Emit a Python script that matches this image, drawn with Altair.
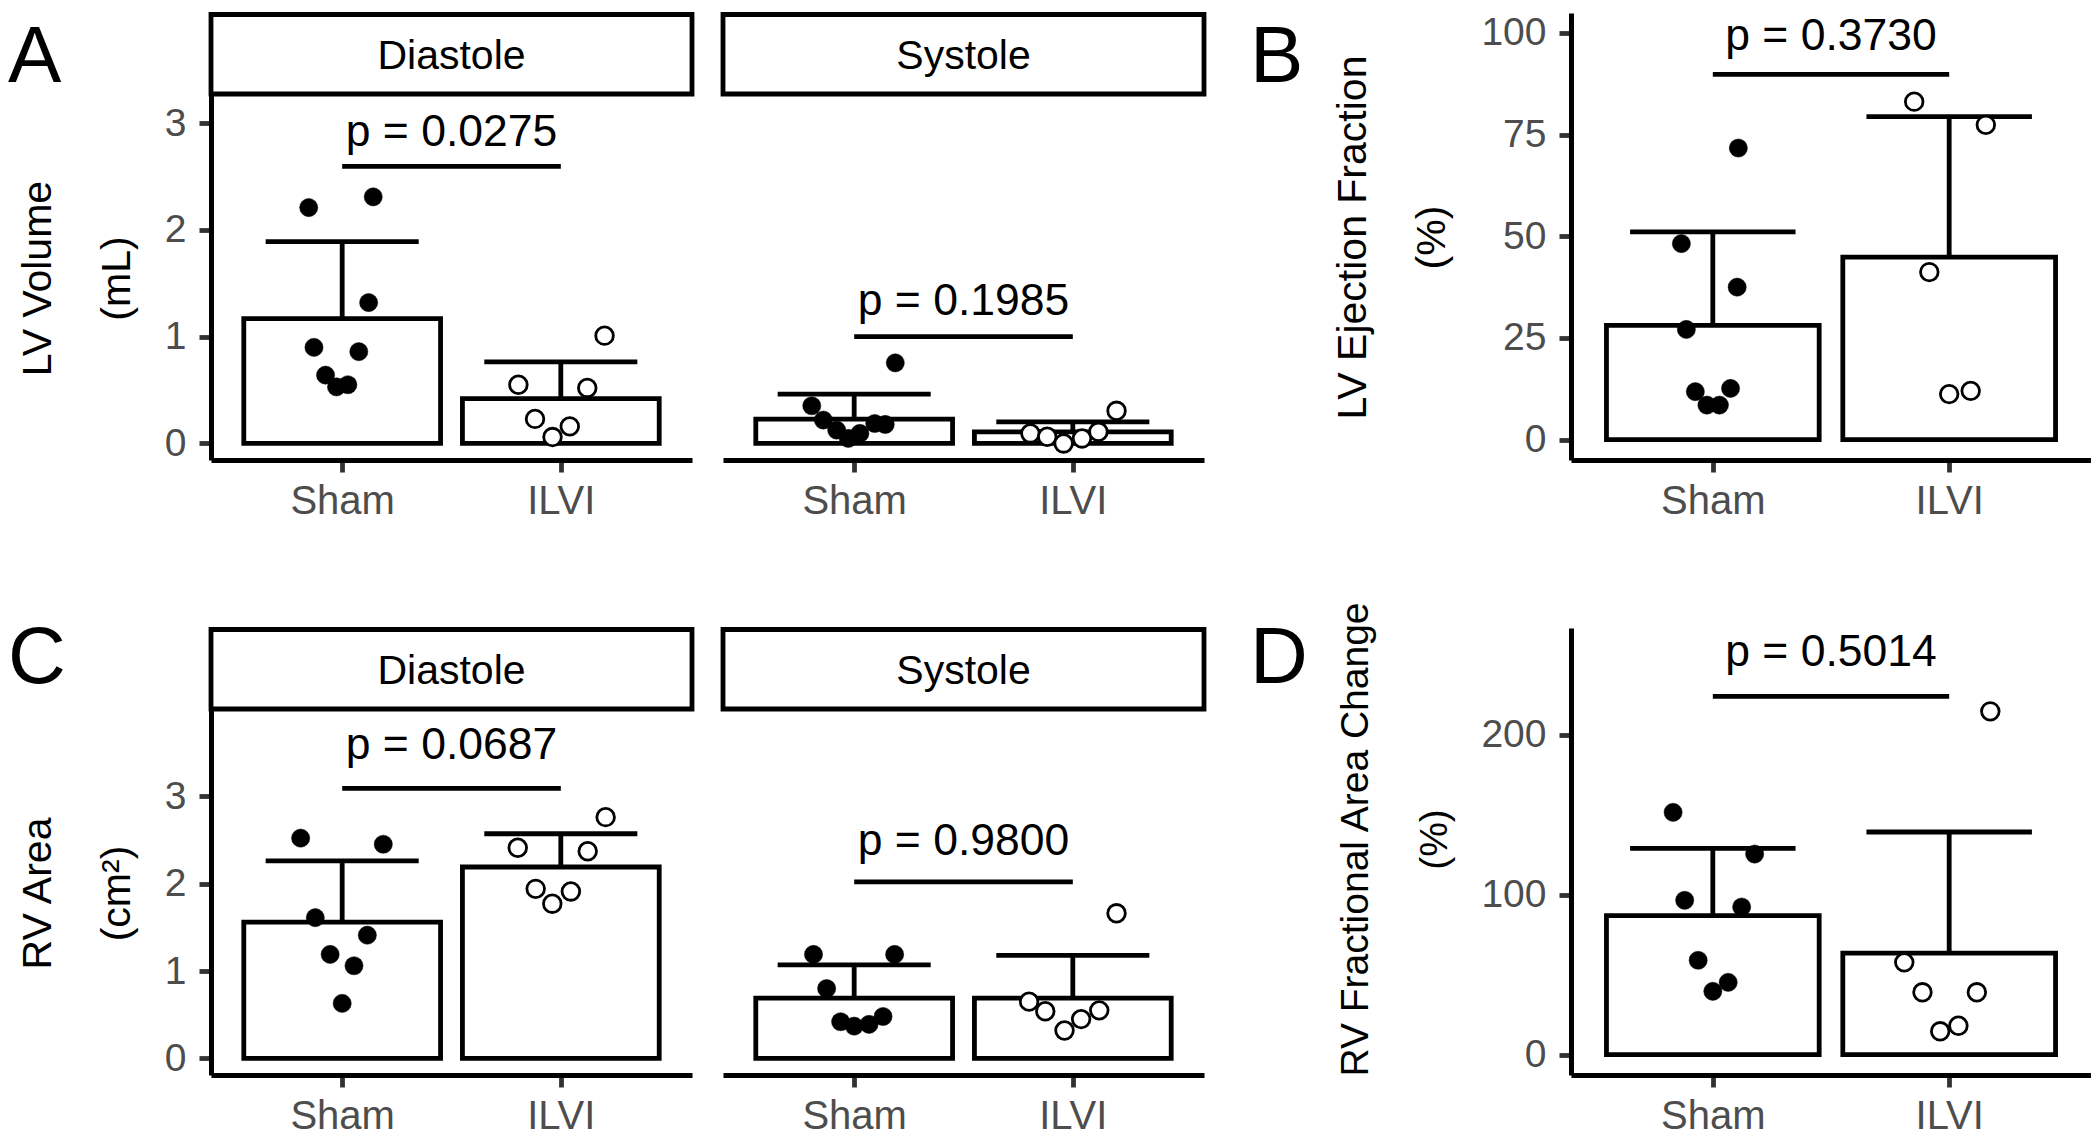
import json
import pandas as pd
import altair as alt

FONT = "Liberation Sans"
GROUPS = ["Sham", "ILVI"]

# ---------------- Panel A: LV volume (mL) ----------------
A_DIA_SHAM = [2.21, 2.31, 1.32, 0.90, 0.86, 0.64, 0.53, 0.55]
A_DIA_SHAM_JIT = [-0.153, 0.142, 0.121, -0.129, 0.076, -0.076, -0.026, 0.026]
A_DIA_ILVI = [1.01, 0.55, 0.52, 0.23, 0.16, 0.06]
A_DIA_ILVI_JIT = [0.200, -0.194, 0.121, -0.118, 0.041, -0.038]
A_DIA_MEAN = [1.17, 0.42]
A_DIA_UPPER = [1.89, 0.765]
A_DIA_BRACKET, A_DIA_PY, A_DIA_P = 2.595, 2.79, "p = 0.0275"

A_SYS_SHAM = [0.755, 0.353, 0.219, 0.125, 0.047, 0.094, 0.187, 0.178]
A_SYS_SHAM_JIT = [0.188, -0.194, -0.141, -0.080, -0.027, 0.026, 0.094, 0.142]
A_SYS_ILVI = [0.306, 0.094, 0.063, 0.0, 0.047, 0.109]
A_SYS_ILVI_JIT = [0.200, -0.194, -0.117, -0.042, 0.042, 0.117]
A_SYS_MEAN = [0.228, 0.109]
A_SYS_UPPER = [0.462, 0.203]
A_SYS_BRACKET, A_SYS_PY, A_SYS_P = 1.0, 1.20, "p = 0.1985"

# ---------------- Panel B: LV ejection fraction (%) ----------------
B_SHAM = [71.7, 48.2, 37.5, 27.1, 11.8, 12.6, 8.5, 8.5]
B_SHAM_JIT = [0.108, -0.133, 0.103, -0.112, -0.074, 0.075, -0.025, 0.028]
B_ILVI = [83.1, 77.4, 41.2, 11.2, 12.0]
B_ILVI_JIT = [-0.148, 0.155, -0.084, 0.0, 0.091]
B_MEAN = [28.1, 44.9]
B_UPPER = [51.1, 79.4]
B_BRACKET, B_PY, B_P = 89.8, 95.8, "p = 0.3730"

# ---------------- Panel C: RV area (cm2) ----------------
C_DIA_SHAM = [2.52, 2.45, 1.61, 1.41, 1.19, 1.06, 0.63]
C_DIA_SHAM_JIT = [-0.190, 0.188, -0.123, 0.115, -0.055, 0.054, 0.0]
C_DIA_ILVI = [2.76, 2.41, 2.37, 1.94, 1.91, 1.77]
C_DIA_ILVI_JIT = [0.205, -0.197, 0.123, -0.115, 0.046, -0.039]
C_DIA_MEAN = [1.56, 2.19]
C_DIA_UPPER = [2.26, 2.57]
C_DIA_BRACKET, C_DIA_PY, C_DIA_P = 3.09, 3.42, "p = 0.0687"

C_SYS_SHAM = [1.19, 1.19, 0.80, 0.42, 0.37, 0.39, 0.48]
C_SYS_SHAM_JIT = [-0.186, 0.185, -0.126, -0.062, 0.0, 0.068, 0.132]
C_SYS_ILVI = [1.66, 0.65, 0.54, 0.32, 0.45, 0.55]
C_SYS_ILVI_JIT = [0.200, -0.200, -0.126, -0.038, 0.038, 0.121]
C_SYS_MEAN = [0.69, 0.69]
C_SYS_UPPER = [1.07, 1.18]
C_SYS_BRACKET, C_SYS_PY, C_SYS_P = 2.02, 2.33, "p = 0.9800"

# ---------------- Panel D: RV fractional area change (%) ----------------
D_SHAM = [151.5, 125.4, 96.5, 92.3, 59.0, 45.2, 39.6]
D_SHAM_JIT = [-0.168, 0.177, -0.119, 0.122, -0.062, 0.065, 0.0]
D_ILVI = [214.6, 57.7, 39.0, 39.0, 14.6, 18.1]
D_ILVI_JIT = [0.174, -0.190, -0.113, 0.117, -0.038, 0.039]
D_MEAN = [86.9, 63.5]
D_UPPER = [129.0, 139.2]
D_BRACKET, D_PY, D_P = 224.0, 243.1, "p = 0.5014"

LABEL_EXPR = json.dumps(GROUPS) + "[datum.value - 1]"
LW = 4.8


def panel(sham, sham_jit, ilvi, ilvi_jit, means, uppers, br_y, p_y, p_label,
          data_max, yticks, width, plot_h, strip_h=0, strip_label=None,
          ytitle=None, title_x=0, title_y=0, letter=None, letter_x=0, letter_y=0,
          title_size=41):
    span = 1.1 * data_max
    ymin = -0.05 * data_max
    ymax = 1.05 * data_max + strip_h * span / plot_h

    xscale = alt.Scale(domain=[0.4, 2.6], nice=False, zero=False)
    yscale = alt.Scale(domain=[ymin, ymax], nice=False, zero=False)
    xaxis = alt.Axis(values=[1, 2], labelExpr=LABEL_EXPR, title=None, grid=False,
                     domainColor="black", domainWidth=5, tickColor="#333333",
                     tickWidth=4.8, tickSize=12, labelFontSize=40, labelColor="#4D4D4D",
                     labelPadding=9, labelFont=FONT, labelFlush=False)
    if ytitle is not None:
        yaxis = alt.Axis(values=yticks, title=ytitle, grid=False, domainColor="black",
                         domainWidth=5, tickColor="#333333", tickWidth=4.8, tickSize=12,
                         labelFontSize=39, labelColor="#4D4D4D", labelPadding=13,
                         labelFont=FONT, titleFont=FONT, titleFontSize=title_size,
                         titleFontWeight="normal", titleColor="black", titleAngle=270,
                         titleAlign="center", titleBaseline="alphabetic",
                         titleLineHeight=79, titleX=title_x, titleY=title_y)
    else:
        yaxis = None

    def X(f):
        return alt.X(f, type="quantitative", scale=xscale, axis=xaxis)

    def Y(f):
        return alt.Y(f, type="quantitative", scale=yscale, axis=yaxis)

    bars = pd.DataFrame({"idx": [1, 2], "mean": means, "upper": uppers})
    pts = pd.DataFrame({"idx": [1] * len(sham) + [2] * len(ilvi),
                        "value": sham + ilvi, "jit": sham_jit + ilvi_jit})
    br = pd.DataFrame({"x1": [1], "x2": [2], "by": [br_y], "ty": [p_y], "label": [p_label]})

    bbase = alt.Chart(bars).transform_calculate(
        lo="datum.idx - 0.45", hi="datum.idx + 0.45",
        clo="datum.idx - 0.35", chi="datum.idx + 0.35", zero="0")
    bar = bbase.mark_rect(fill="white", stroke="black", strokeWidth=LW).encode(
        x=X("lo"), x2="hi", y=Y("zero"), y2="mean")
    stem = bbase.mark_rule(color="black", strokeWidth=LW).encode(
        x=X("idx"), y=Y("mean"), y2="upper")
    cap = bbase.mark_rule(color="black", strokeWidth=LW).encode(
        x=X("clo"), x2="chi", y=Y("upper"))

    pbase = alt.Chart(pts).transform_calculate(px="datum.idx + datum.jit")
    sham_pts = pbase.transform_filter("datum.idx == 1").mark_circle(
        size=330, fill="black", stroke="black", strokeWidth=0.5, opacity=1).encode(
        x=X("px"), y=Y("value"))
    ilvi_pts = pbase.transform_filter("datum.idx == 2").mark_circle(
        size=310, fill="white", stroke="black", strokeWidth=2.8, opacity=1).encode(
        x=X("px"), y=Y("value"))

    bbr = alt.Chart(br).transform_calculate(xm="(datum.x1 + datum.x2) / 2")
    bracket = bbr.mark_rule(color="black", strokeWidth=LW).encode(
        x=X("x1"), x2="x2", y=Y("by"))
    ptext = bbr.mark_text(font=FONT, fontSize=44.5, color="black", align="center",
                          baseline="alphabetic").encode(x=X("xm"), y=Y("ty"), text="label:N")

    layers = [bar, stem, cap, sham_pts, ilvi_pts, bracket, ptext]

    if strip_label is not None:
        sdf = pd.DataFrame({"label": [strip_label]})
        srect = alt.Chart(sdf).mark_rect(fill="white", stroke="black", strokeWidth=LW).encode(
            x=alt.value(0), x2=alt.value(width), y=alt.value(1.5), y2=alt.value(strip_h - 2))
        stext = alt.Chart(sdf).mark_text(font=FONT, fontSize=41, color="black",
                                         align="center", baseline="alphabetic").encode(
            x=alt.value(width / 2), y=alt.value(55.7), text="label:N")
        layers += [srect, stext]

    if letter is not None:
        ldf = pd.DataFrame({"letter": [letter]})
        ltext = alt.Chart(ldf).mark_text(font=FONT, fontSize=80, color="black",
                                         align="left", baseline="alphabetic").encode(
            x=alt.value(letter_x), y=alt.value(letter_y), text="letter:N")
        layers.append(ltext)

    return alt.layer(*layers).properties(width=width, height=plot_h + strip_h)


def spacer(width, height):
    return alt.Chart(pd.DataFrame({"v": [0]})).mark_point(opacity=0).encode(
        x=alt.X("v:Q", axis=None), y=alt.Y("v:Q", axis=None)).properties(
        width=width, height=height)


W_FACET = 481
W_SINGLE = 520
STRIP = 83

a_dia = panel(A_DIA_SHAM, A_DIA_SHAM_JIT, A_DIA_ILVI, A_DIA_ILVI_JIT, A_DIA_MEAN, A_DIA_UPPER,
              A_DIA_BRACKET, A_DIA_PY, A_DIA_P, 3.1, [0, 1, 2, 3], W_FACET, 364, STRIP,
              "Diastole", ["LV Volume", "(mL)"], -161, STRIP + 364 / 2, "A", -203, 68.6)
a_sys = panel(A_SYS_SHAM, A_SYS_SHAM_JIT, A_SYS_ILVI, A_SYS_ILVI_JIT, A_SYS_MEAN, A_SYS_UPPER,
              A_SYS_BRACKET, A_SYS_PY, A_SYS_P, 3.1, [0, 1, 2, 3], W_FACET, 364, STRIP,
              "Systole")
b = panel(B_SHAM, B_SHAM_JIT, B_ILVI, B_ILVI_JIT, B_MEAN, B_UPPER, B_BRACKET, B_PY, B_P,
          99.9, [0, 25, 50, 75, 100], W_SINGLE, 447, 0, None,
          ["LV Ejection Fraction", "(%)"], -206, 224, "B", -321, 68.6)
c_dia = panel(C_DIA_SHAM, C_DIA_SHAM_JIT, C_DIA_ILVI, C_DIA_ILVI_JIT, C_DIA_MEAN, C_DIA_UPPER,
              C_DIA_BRACKET, C_DIA_PY, C_DIA_P, 3.785, [0, 1, 2, 3], W_FACET, 364, STRIP,
              "Diastole", ["RV Area", "(cm²)"], -161, STRIP + 364 / 2, "C", -203, 55)
c_sys = panel(C_SYS_SHAM, C_SYS_SHAM_JIT, C_SYS_ILVI, C_SYS_ILVI_JIT, C_SYS_MEAN, C_SYS_UPPER,
              C_SYS_BRACKET, C_SYS_PY, C_SYS_P, 3.785, [0, 1, 2, 3], W_FACET, 364, STRIP,
              "Systole")
d = panel(D_SHAM, D_SHAM_JIT, D_ILVI, D_ILVI_JIT, D_MEAN, D_UPPER, D_BRACKET, D_PY, D_P,
          254, [0, 100, 200], W_SINGLE, 447, 0, None,
          ["RV Fractional Area Change", "(%)"], -204, 211, "D", -321, 55, title_size=39)

chart = alt.concat(
    a_dia, a_sys, spacer(305, 447), b,
    c_dia, c_sys, spacer(305, 447), d,
    columns=4, spacing={"row": 168, "column": 31}, bounds="flush",
).properties(padding={"top": 4, "left": 0, "right": 0, "bottom": 0}).configure(
    font=FONT).configure_view(stroke=None)

chart.save("out.html", embed_options={"renderer": "svg", "actions": False})
